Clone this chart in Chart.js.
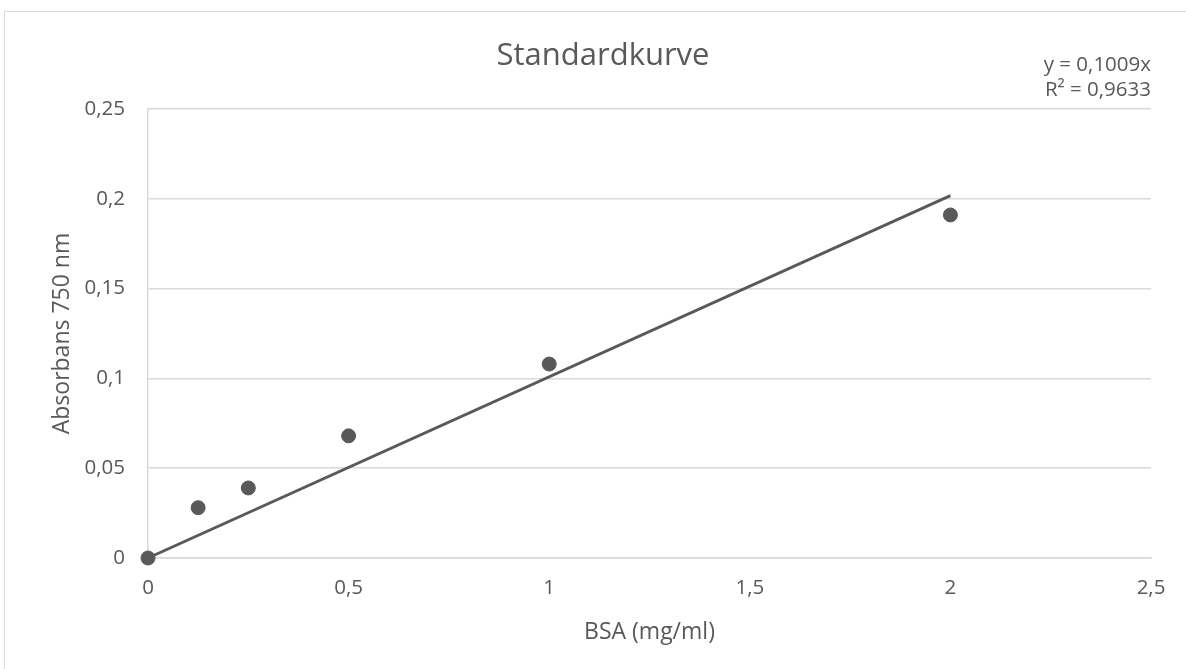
<!DOCTYPE html>
<html>
<head>
<meta charset="utf-8">
<script src="https://cdn.jsdelivr.net/npm/chart.js@4"></script>
<style>
  html, body { margin: 0; padding: 0; background: #fff; }
  #wrap { position: relative; width: 1186px; height: 669px; overflow: hidden; }
  #frame { position: absolute; left: 4px; top: 11px; width: 1200px; height: 700px; border: 1px solid #d9d9d9; box-sizing: border-box; }
  canvas { position: absolute; left: 0; top: 0; }
</style>
</head>
<body>
<div id="wrap">
  <div id="frame"></div>
  <canvas id="chart" width="1186" height="669"></canvas>
</div>
<script>
// data
const bsaValues = [0, 0.125, 0.25, 0.5, 1, 2];
const absorbans = [0, 0.028, 0.039, 0.068, 0.108, 0.191];
const trendX = [0, 2];
const trendY = [0, 0.2018];
const equationLines = ["y = 0,1009x", "R² = 0,9633"];

const textColor = "#595959";
const gridColor = "#d9d9d9";
const font = "'Open Sans', 'Noto Sans', sans-serif";

function commaLabel(value) {
  return String(Math.round(value * 100) / 100).replace(".", ",");
}

// title and trendline label
const textPlugin = {
  id: "texts",
  afterDraw(chart) {
    const ctx = chart.ctx;
    ctx.save();
    ctx.fillStyle = textColor;
    ctx.textBaseline = "middle";
    ctx.textAlign = "center";
    ctx.font = "31px " + font;
    ctx.fillText("Standardkurve", 603, 56);
    ctx.textAlign = "right";
    ctx.font = "20.5px " + font;
    ctx.fillText(equationLines[0], 1151, 65);
    ctx.fillText(equationLines[1], 1151, 90);
    ctx.restore();
  },
};

new Chart(document.getElementById("chart"), {
  type: "scatter",
  data: {
    datasets: [
      {
        label: "Standard",
        data: bsaValues.map((x, i) => ({ x: x, y: absorbans[i] })),
        backgroundColor: textColor,
        borderColor: textColor,
        pointRadius: 7,
        pointHoverRadius: 7,
        clip: false,
      },
      {
        label: "Trend",
        type: "line",
        data: trendX.map((x, i) => ({ x: x, y: trendY[i] })),
        borderColor: textColor,
        borderWidth: 3,
        pointRadius: 0,
        fill: false,
        clip: false,
      },
    ],
  },
  options: {
    responsive: false,
    animation: false,
    events: [],
    layout: { padding: { top: 109, right: 35, bottom: 0, left: 0 } },
    plugins: {
      legend: { display: false },
      tooltip: { enabled: false },
    },
    scales: {
      x: {
        type: "linear",
        min: 0,
        max: 2.5,
        ticks: {
          stepSize: 0.5,
          color: textColor,
          font: { family: font, size: 20.5 },
          padding: 18,
          callback: commaLabel,
        },
        grid: { display: false, drawTicks: false },
        border: { display: true, color: gridColor, width: 1.5 },
        title: {
          display: true,
          text: "BSA (mg/ml)",
          color: textColor,
          font: { family: font, size: 23 },
          padding: { top: 0, bottom: 23 },
        },
        afterFit(scale) {
          scale.height = 111;
        },
      },
      y: {
        type: "linear",
        min: 0,
        max: 0.25,
        ticks: {
          stepSize: 0.05,
          color: textColor,
          font: { family: font, size: 20.5 },
          padding: 23,
          callback: commaLabel,
        },
        grid: { color: gridColor, lineWidth: 1.5, drawTicks: false },
        border: { display: true, color: gridColor, width: 1.5 },
        title: {
          display: true,
          text: "Absorbans 750 nm",
          color: textColor,
          font: { family: font, size: 23 },
          padding: { top: 49, bottom: 0 },
        },
        afterFit(scale) {
          scale.width = 148;
        },
      },
    },
  },
  plugins: [textPlugin],
});
</script>
</body>
</html>
